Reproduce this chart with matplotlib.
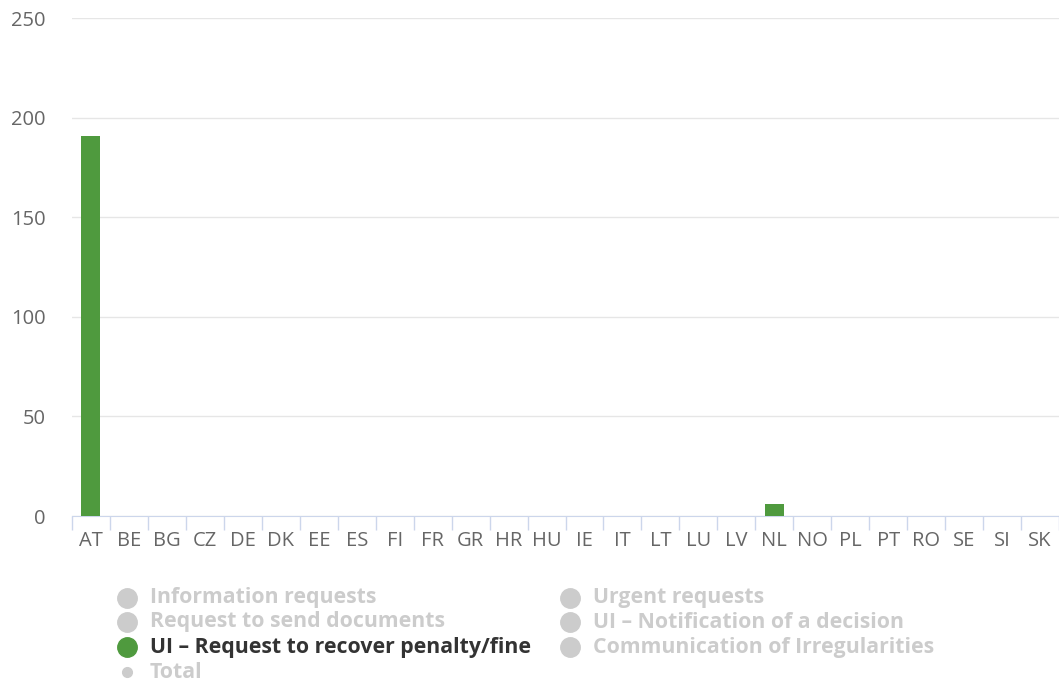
import numpy as np
import matplotlib.pyplot as plt
from matplotlib.lines import Line2D

countries = ['AT', 'BE', 'BG', 'CZ', 'DE', 'DK', 'EE', 'ES', 'FI', 'FR', 'GR', 'HR', 'HU',
             'IE', 'IT', 'LT', 'LU', 'LV', 'NL', 'NO', 'PL', 'PT', 'RO', 'SE', 'SI', 'SK']
# UI - Request to recover penalty/fine (only series switched on)
recover_fine = [191, 0, 0, 0, 0, 0, 0, 0, 0, 0, 0, 0, 0,
                0, 0, 0, 0, 0, 6, 0, 0, 0, 0, 0, 0, 0]
yticks = [0, 50, 100, 150, 200, 250]

col1 = ['Information requests', 'Request to send documents',
        'UI \u2013 Request to recover penalty/fine', 'Total']
col2 = ['Urgent requests', 'UI \u2013 Notification of a decision',
        'Communication of Irregularities']

green = '#4f9a3e'
grey_off = '#cccccc'

plt.rcParams['font.family'] = ['Open Sans', 'DejaVu Sans']

fig = plt.figure(figsize=(10.59, 6.86), dpi=100)
ax = fig.add_axes([72 / 1059, 1 - 516 / 686, (1059 - 72) / 1059, (516 - 18) / 686])

x = np.arange(len(countries))
vals = np.array(recover_fine)
mask = vals > 0
ax.bar(x[mask], vals[mask], width=0.5, color=green, zorder=3)

ax.set_xlim(-0.5, len(countries) - 0.5)
ax.set_ylim(0, 250)
ax.set_yticks(yticks)
ax.set_yticklabels([str(v) for v in yticks])
ax.yaxis.grid(True, color='#e6e6e6', linewidth=1)
ax.tick_params(axis='y', length=0, pad=19, labelsize=14.5, labelcolor='#666666')

ax.set_xticks(x)
ax.set_xticklabels(countries)
ax.set_xticks(np.arange(len(countries) + 1) - 0.5, minor=True)
ax.tick_params(axis='x', which='major', length=0, pad=11, labelsize=14.5, labelcolor='#666666')
ax.tick_params(axis='x', which='minor', length=10, color='#ccd6eb', width=1)

for s in ['top', 'right', 'left']:
    ax.spines[s].set_visible(False)
ax.spines['bottom'].set_color('#ccd6eb')

# legend: two columns, only the active series is coloured
def add_item(xm, y, label, active, small=False):
    fig.add_artist(Line2D([xm / 1059], [1 - y / 686], marker='o', linestyle='none',
                          markersize=7 if small else 14,
                          color=green if active else grey_off,
                          transform=fig.transFigure))
    fig.text((xm + 23) / 1059, 1 - y / 686, label, fontsize=15.3, fontweight='bold',
             color='#333333' if active else grey_off, va='center', ha='left')

rows_y = [598, 622, 647, 672]
for i, lab in enumerate(col1):
    add_item(127, rows_y[i], lab, lab.startswith('UI \u2013 Request'), small=(lab == 'Total'))
for i, lab in enumerate(col2):
    add_item(570, rows_y[i], lab, False)

fig.savefig('out.png', dpi=100)
